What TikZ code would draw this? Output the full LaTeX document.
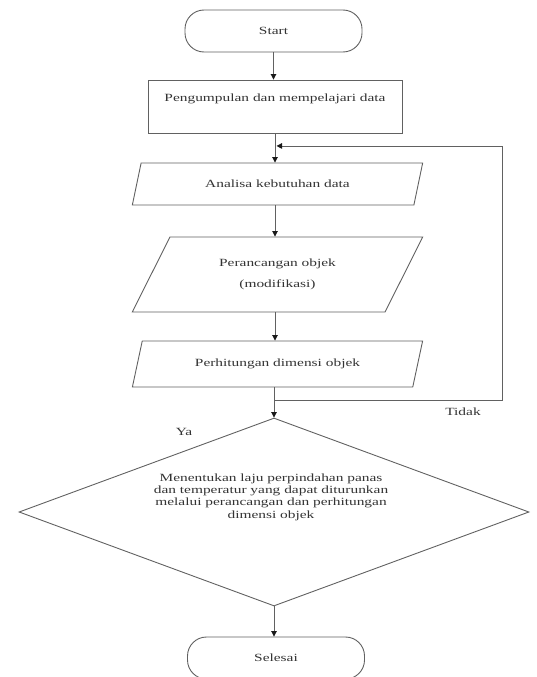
\documentclass[tikz,border=0pt]{standalone}
\usepackage{fontspec}
\setmainfont{Liberation Serif}[FakeStretch=1.4]
\usetikzlibrary{shapes.geometric,arrows.meta,calc}
\begin{document}
\begin{tikzpicture}[x=1pt,y=-1pt,
  line/.style={draw=black!62, line width=0.9pt},
  arr/.style={line, -{Triangle[length=5.5pt,width=5.5pt,color=black!90,fill=black!90]}},
  txt/.style={text=black!80, font=\fontsize{11}{13}\selectfont},
  term/.style={line, txt, rectangle, rounded corners=19pt, minimum width=177pt, minimum height=42pt, inner sep=0pt},
  proc/.style={line, txt, rectangle, minimum width=254pt, minimum height=53pt, inner sep=0pt},
  para/.style 2 args={line, txt, trapezium, trapezium left angle=#1, trapezium right angle=#2, trapezium stretches=true, minimum width=291pt, inner sep=0pt, align=center},
  dec/.style={line, diamond, minimum width=510pt, minimum height=188pt, inner sep=0pt},
]
\useasboundingbox (0,0) rectangle (536,677);

\node[term] (start) at (273.5,31) {Start};
\node[proc, text height=8pt, text depth=18pt] (collect) at (275,106.5) {Pengumpulan dan mempelajari data};
\node[para={59}{121}, minimum height=42pt] (analisa) at (277.5,184) {Analisa kebutuhan data};
\node[para={57}{123}, minimum height=75pt] (rancang) at (277.5,274.5) {Perancangan objek\\[8.5pt](modifikasi)};
\node[para={59}{121}, minimum height=46pt] (hitung) at (277.5,364) {Perhitungan dimensi objek};
\node[dec] (dec) at (274,512) {};
\node[txt, align=center, font=\fontsize{11}{12.3}\selectfont] (dectext) at (271,497) {Menentukan laju perpindahan panas\\dan temperatur yang dapat diturunkan\\melalui perancangan dan perhitungan\\dimensi objek};
\node[term] (end) at (276,658) {Selesai};

\node[txt] (tidak) at (463,412) {Tidak};
\node[txt] (ya) at (184,432) {Ya};

\draw[arr] (start.south) -- (start.south |- collect.north);
\draw[arr] (collect.south) -- (collect.south |- analisa.north);
\draw[arr] (analisa.south -| collect.south) -- (collect.south |- rancang.north);
\draw[arr] (rancang.south -| collect.south) -- (collect.south |- hitung.north);
\draw[arr] (hitung.south -| dec.north) -- (dec.north);
\draw[arr] (dec.south) -- (dec.south |- end.north);

\coordinate (loopstart) at ($(dec.north)+(0,-17)$);
\coordinate (loopend) at ($(collect.south)!0.43!(collect.south |- analisa.north)+(1.5,0)$);
\draw[arr] (loopstart) -- ++(228,0) |- (loopend);
\end{tikzpicture}
\end{document}
